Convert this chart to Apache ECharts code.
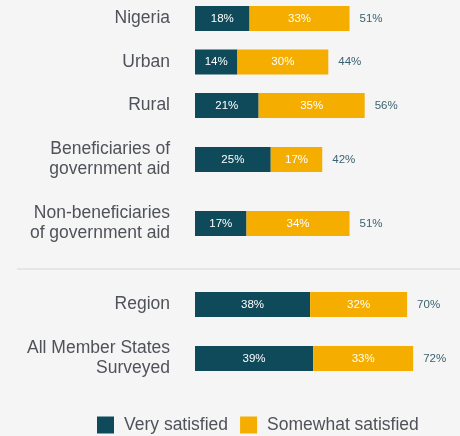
<!DOCTYPE html>
<html>
<head>
<meta charset="utf-8">
<script src="https://cdn.jsdelivr.net/npm/echarts@6/dist/echarts.min.js"></script>
<style>
  html, body { margin: 0; padding: 0; background: #f5f5f5; }
  #chart { width: 460px; height: 436px; }
</style>
</head>
<body>
<div id="chart"></div>
<script>
// groups of rows, top to bottom
const groupA = ['Nigeria', 'Urban', 'Rural']
const groupB = ['Beneficiaries of\ngovernment aid', 'Non-beneficiaries\nof government aid']
const groupC = ['Region', 'All Member States\nSurveyed']

const verySatisfiedA = [18, 14, 21]
const somewhatSatisfiedA = [33, 30, 35]
const totalA = [51, 44, 56]

const verySatisfiedB = [25, 17]
const somewhatSatisfiedB = [17, 34]
const totalB = [42, 51]

const verySatisfiedC = [38, 39]
const somewhatSatisfiedC = [32, 33]
const totalC = [70, 72]

const DARK = '#0f4a5a'
const GOLD = '#f5ae00'
const FONT = '"Liberation Sans", Arial, sans-serif'

const chart = echarts.init(document.getElementById('chart'), null, { renderer: 'canvas', width: 460, height: 436 })

// one grid per group so the vertical spacing follows the original
const grids = [
  { left: 195, width: 303, top: -3.25, height: 130.5, outerBoundsMode: 'none' },
  { left: 195, width: 303, top: 127.5, height: 128, outerBoundsMode: 'none' },
  { left: 195, width: 303, top: 277.5, height: 108, outerBoundsMode: 'none' }
]

const cats = [groupA, groupB, groupC]
const xAxes = grids.map((g, i) => ({
  gridIndex: i, type: 'value', min: 0, max: 100, show: false
}))
const yAxes = cats.map((c, i) => ({
  gridIndex: i,
  type: 'category',
  data: c,
  inverse: true,
  axisLine: { show: false },
  axisTick: { show: false },
  splitLine: { show: false },
  axisLabel: {
    margin: 25,
    color: '#50525a',
    fontFamily: FONT,
    fontSize: 17.5,
    lineHeight: 20,
    align: 'right'
  }
}))

const inside = {
  show: true,
  position: 'inside',
  color: '#fff',
  fontFamily: FONT,
  fontSize: 11.5,
  formatter: '{c}%'
}

const series = []
const groups = [
  [verySatisfiedA, somewhatSatisfiedA, totalA],
  [verySatisfiedB, somewhatSatisfiedB, totalB],
  [verySatisfiedC, somewhatSatisfiedC, totalC]
]
groups.forEach((g, i) => {
  series.push({
    name: 'Very satisfied', type: 'bar', stack: 's' + i,
    xAxisIndex: i, yAxisIndex: i, barWidth: 25,
    itemStyle: { color: DARK }, label: inside, data: g[0]
  })
  series.push({
    name: 'Somewhat satisfied', type: 'bar', stack: 's' + i,
    xAxisIndex: i, yAxisIndex: i, barWidth: 25,
    itemStyle: { color: GOLD }, label: inside, data: g[1]
  })
  // transparent bar carrying the total label
  series.push({
    name: 'total', type: 'bar', barGap: '-100%',
    xAxisIndex: i, yAxisIndex: i, barWidth: 25,
    itemStyle: { color: 'rgba(0,0,0,0)' },
    label: {
      show: true, position: 'right', distance: 10,
      color: '#3a6270', fontFamily: FONT, fontSize: 11.5, formatter: '{c}%'
    },
    silent: true,
    data: g[2]
  })
})

const option = {
  animation: false,
  backgroundColor: '#f5f5f5',
  grid: grids,
  xAxis: xAxes,
  yAxis: yAxes,
  legend: {
    data: ['Very satisfied', 'Somewhat satisfied'],
    left: 97,
    top: 416,
    itemWidth: 17,
    itemHeight: 17,
    itemGap: 12,
    icon: 'rect',
    padding: 0,
    textStyle: { color: '#50525a', fontFamily: FONT, fontSize: 17.5, padding: [0, 0, 0, 5] }
  },
  graphic: [
    {
      type: 'rect',
      shape: { x: 17, y: 268, width: 443, height: 2 },
      style: { fill: '#e6e6e6' },
      silent: true
    }
  ],
  series: series
}

chart.setOption(option)
</script>
</body>
</html>
